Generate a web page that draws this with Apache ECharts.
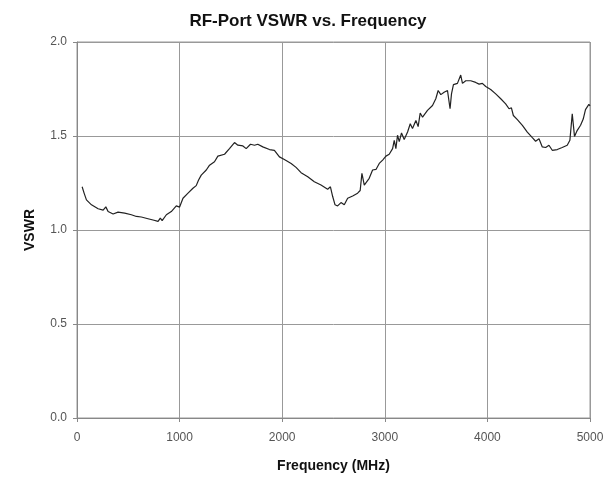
<!DOCTYPE html>
<html>
<head>
<meta charset="utf-8">
<script src="https://cdn.jsdelivr.net/npm/echarts@6/dist/echarts.min.js"></script>
<style>html,body{margin:0;padding:0;background:#fff}#c{width:616px;height:478px}</style>
</head>
<body>
<div id="c"></div>
<script>
const titleText = "RF-Port VSWR vs. Frequency";
const xName = "Frequency (MHz)";
const yName = "VSWR";
const xTicks = [0, 1000, 2000, 3000, 4000, 5000];
const yTicks = [0.0, 0.5, 1.0, 1.5, 2.0];
const freq = [50,60,70,92,141,206,255,281,303,352,400,465,530,579,627,692,741,790,812,830,871,919,968,1000,1033,1082,1130,1162,1185,1211,1260,1292,1340,1373,1438,1486,1535,1568,1617,1649,1691,1730,1762,1811,1876,1924,1973,2021,2087,2135,2184,2249,2313,2378,2443,2470,2492,2515,2540,2573,2605,2638,2687,2735,2760,2777,2800,2848,2881,2914,2946,2979,3011,3043,3076,3092,3108,3124,3141,3163,3189,3222,3248,3270,3303,3325,3345,3368,3416,3465,3497,3520,3546,3578,3611,3636,3650,3669,3708,3740,3757,3789,3838,3886,3919,3951,3984,4032,4081,4130,4178,4211,4234,4253,4292,4341,4389,4438,4470,4503,4535,4568,4600,4632,4681,4729,4778,4804,4827,4849,4876,4908,4934,4956,4973,4989,5000];
const vswr = [1.23,1.22,1.195,1.16,1.134,1.113,1.106,1.123,1.098,1.085,1.095,1.09,1.081,1.072,1.069,1.06,1.053,1.046,1.063,1.05,1.081,1.098,1.128,1.122,1.169,1.196,1.222,1.236,1.266,1.292,1.319,1.345,1.363,1.393,1.403,1.433,1.465,1.451,1.447,1.433,1.456,1.451,1.456,1.442,1.428,1.424,1.389,1.375,1.354,1.333,1.305,1.283,1.257,1.239,1.217,1.23,1.178,1.134,1.128,1.146,1.134,1.169,1.181,1.196,1.21,1.301,1.239,1.275,1.319,1.322,1.354,1.372,1.393,1.403,1.433,1.477,1.433,1.504,1.47,1.516,1.481,1.521,1.565,1.54,1.583,1.55,1.622,1.6,1.636,1.662,1.698,1.742,1.72,1.733,1.742,1.645,1.724,1.773,1.78,1.824,1.78,1.794,1.794,1.785,1.776,1.78,1.763,1.747,1.724,1.698,1.671,1.645,1.65,1.609,1.587,1.557,1.521,1.491,1.472,1.485,1.442,1.439,1.451,1.424,1.428,1.439,1.451,1.477,1.618,1.498,1.53,1.557,1.59,1.64,1.65,1.668,1.66];

const chart = echarts.init(document.getElementById('c'));
const font = "'Liberation Sans', Arial, sans-serif";
chart.setOption({
  animation: false,
  title: {
    text: titleText, left: 'center', top: 8,
    textStyle: {fontFamily: font, fontSize: 17, fontWeight: 'bold', color: '#111'}
  },
  grid: {left: 77, right: 26, top: 42, bottom: 59, show: true, borderColor: '#999', borderWidth: 1},
  xAxis: {
    type: 'value', min: xTicks[0], max: xTicks[xTicks.length-1], interval: 1000,
    name: xName, nameLocation: 'middle', nameGap: 41,
    nameTextStyle: {fontFamily: font, fontSize: 14, fontWeight: 'bold', color: '#111'},
    axisLine: {show: true, lineStyle: {color: '#888'}},
    axisTick: {show: true, length: 4, lineStyle: {color: '#888'}},
    axisLabel: {fontFamily: font, fontSize: 12, color: '#555', margin: 14, formatter: v => String(v)},
    splitLine: {show: true, lineStyle: {color: '#999', width: 1}}
  },
  yAxis: {
    type: 'value', min: yTicks[0], max: yTicks[yTicks.length-1], interval: 0.5,
    name: yName, nameLocation: 'middle', nameGap: 40, nameRotate: 90,
    nameTextStyle: {fontFamily: font, fontSize: 14, fontWeight: 'bold', color: '#111'},
    axisLine: {show: true, lineStyle: {color: '#888'}},
    axisTick: {show: true, length: 4, lineStyle: {color: '#888'}},
    axisLabel: {fontFamily: font, fontSize: 12, color: '#555', margin: 10, formatter: v => v.toFixed(1)},
    splitLine: {show: true, lineStyle: {color: '#999', width: 1}}
  },
  series: [{
    type: 'line', showSymbol: false, smooth: false,
    data: freq.map((f, i) => [f, vswr[i]]),
    lineStyle: {color: '#222', width: 1.2}
  }]
});
</script>
</body>
</html>
